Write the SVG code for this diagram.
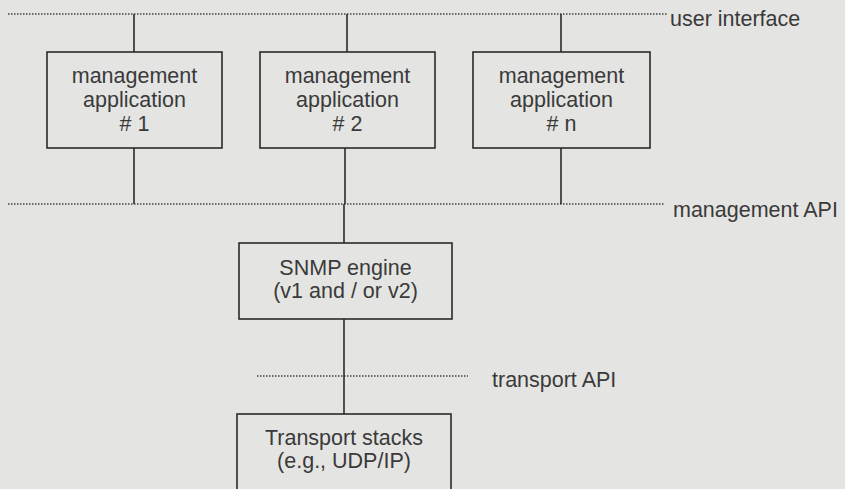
<svg xmlns="http://www.w3.org/2000/svg" width="845" height="489" viewBox="0 0 845 489">
<style>
.bg{fill:#e4e4e2}
.box{fill:none;stroke:#2a2a2a;stroke-width:1.6}
.ln{stroke:#2a2a2a;stroke-width:1.6;fill:none}
.dot{stroke:#444;stroke-width:1.6;stroke-dasharray:1.5 1.5;fill:none}
text{font-family:"Liberation Sans",Arial,sans-serif;font-size:21.5px;fill:#3a3a3a}
.c{text-anchor:middle}
</style>
<rect class="bg" x="0" y="0" width="845" height="489"/>
<g id="connectors">
<line class="dot" x1="8" y1="14" x2="667" y2="14"/>
<line class="dot" x1="8" y1="204" x2="665" y2="204"/>
<line class="dot" x1="257" y1="376" x2="468" y2="376"/>
<line class="ln" x1="134" y1="14" x2="134" y2="52"/>
<line class="ln" x1="347" y1="14" x2="347" y2="52"/>
<line class="ln" x1="561" y1="14" x2="561" y2="52"/>
<line class="ln" x1="134" y1="148" x2="134" y2="204"/>
<line class="ln" x1="345" y1="148" x2="345" y2="204"/>
<line class="ln" x1="561" y1="148" x2="561" y2="204"/>
<line class="ln" x1="344" y1="204" x2="344" y2="243"/>
<line class="ln" x1="344" y1="319" x2="344" y2="414"/>
</g>
<g id="labels">
<text x="670" y="26">user interface</text>
<text x="673" y="217">management API</text>
<text x="492" y="387">transport API</text>
</g>
<g id="app1">
<rect class="box" x="47" y="52" width="175" height="96"/>
<text class="c" x="134.5" y="83">management</text>
<text class="c" x="134.5" y="107">application</text>
<text class="c" x="134.5" y="131"># 1</text>
</g>
<g id="app2">
<rect class="box" x="260" y="52" width="175" height="96"/>
<text class="c" x="347.5" y="83">management</text>
<text class="c" x="347.5" y="107">application</text>
<text class="c" x="347.5" y="131"># 2</text>
</g>
<g id="appn">
<rect class="box" x="473" y="52" width="177" height="96"/>
<text class="c" x="561.5" y="83">management</text>
<text class="c" x="561.5" y="107">application</text>
<text class="c" x="561.5" y="131"># n</text>
</g>
<g id="snmp">
<rect class="box" x="239" y="243" width="213" height="76"/>
<text class="c" x="345.5" y="275">SNMP engine</text>
<text class="c" x="345.5" y="298">(v1 and / or v2)</text>
</g>
<g id="transport">
<rect class="box" x="237" y="414" width="214" height="90"/>
<text class="c" x="344" y="445">Transport stacks</text>
<text class="c" x="344" y="468">(e.g., UDP/IP)</text>
</g>
</svg>
